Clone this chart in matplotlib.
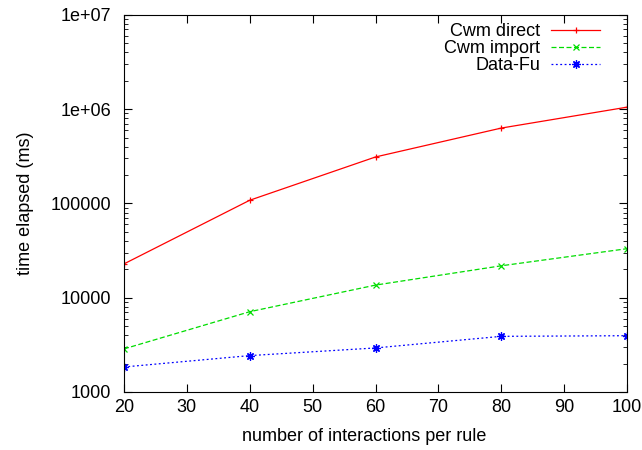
import matplotlib.pyplot as plt
from matplotlib.ticker import LogLocator, FixedLocator, NullFormatter, FuncFormatter

plt.rcParams['font.family'] = ['Liberation Sans', 'DejaVu Sans']

interactions = [20, 40, 60, 80, 100]
cwm_direct = [22800, 108000, 311000, 630000, 1050000]
cwm_import = [2860, 7100, 13600, 21800, 33100]
data_fu = [1840, 2430, 2930, 3890, 3950]

fig = plt.figure(figsize=(6.42, 4.50), dpi=100)
ax = fig.add_axes([0.193, 0.129, 0.784, 0.838])

ax.plot(interactions, cwm_direct, color='red', lw=0.9, ls='-', marker='+', ms=5, mew=0.9, label='Cwm direct')
ax.plot(interactions, cwm_import, color='#00dd00', lw=0.9, ls=(0, (4, 2)), marker='x', ms=5, mew=0.9, label='Cwm import')
ax.plot(interactions, data_fu, color='blue', lw=0.9, ls=(0, (1.5, 2)), marker=(8, 2, 0), ms=6, mew=0.9, label='Data-Fu')

ax.set_yscale('log')
ax.set_xlim(20, 100)
ax.set_ylim(1000, 1e7)
ax.xaxis.set_major_locator(FixedLocator(range(20, 101, 10)))
ax.yaxis.set_major_locator(LogLocator(base=10, numticks=10))
ax.yaxis.set_minor_locator(LogLocator(base=10, subs=range(2, 10), numticks=10))
ax.yaxis.set_minor_formatter(NullFormatter())

def yfmt(v, pos):
    if v >= 1e6:
        return '%.0e' % v
    return '%d' % v

ax.yaxis.set_major_formatter(FuncFormatter(yfmt))
ax.tick_params(which='both', direction='in', top=True, right=True, labelsize=13)
ax.tick_params(axis='y', pad=9)
ax.tick_params(axis='x', pad=5)
ax.tick_params(which='major', length=6)
ax.tick_params(which='minor', length=3)

ax.set_xlabel('number of interactions per rule', fontsize=13, x=0.477, labelpad=9)
ax.set_ylabel('time elapsed (ms)', fontsize=13, labelpad=12)

ax.legend(loc='upper right', bbox_to_anchor=(0.962, 1.0), frameon=False, markerfirst=False,
          fontsize=13, handlelength=2.7, labelspacing=0.0, borderaxespad=0.05,
          handletextpad=0.6)

fig.savefig('out.png', dpi=100)
